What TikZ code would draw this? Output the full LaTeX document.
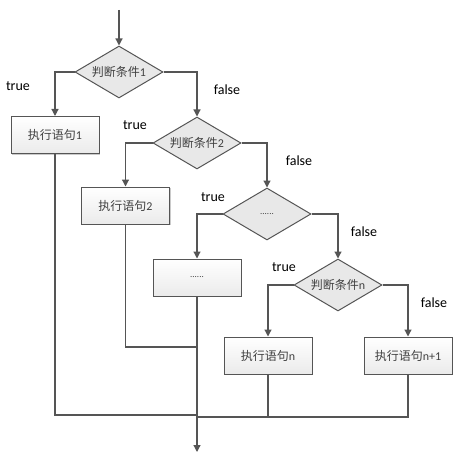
\documentclass[tikz,border=0pt]{standalone}
\usepackage{fontspec}
\setmainfont{Carlito}
\newfontfamily\cjk{Noto Sans CJK SC}
\usetikzlibrary{shapes.geometric,arrows.meta,shadows}
\definecolor{linec}{HTML}{555555}
\definecolor{txtc}{HTML}{404040}
\definecolor{dfill}{HTML}{E8E8E8}
\begin{document}
\begin{tikzpicture}[x=1pt,y=-1pt,
  every node/.style={font=\fontsize{12}{14}\selectfont},
  boxnode/.style={rectangle, draw=linec, line width=1pt, top color=white, bottom color=black!8,
    minimum width=88pt, minimum height=37pt, inner sep=0pt, text=txtc,
    drop shadow={shadow xshift=1.2pt, shadow yshift=-1.2pt, fill=black!35, opacity=0.6}},
  decnode/.style={diamond, draw=linec, line width=1pt, fill=dfill, aspect=1.7,
    minimum width=88pt, minimum height=52pt, inner sep=0pt, text=txtc},
  conn/.style={draw=linec, line width=1.2pt},
  arr/.style={conn, -{Triangle[width=7pt,length=7pt]}},
  lbl/.style={font=\fontsize{14}{16}\selectfont, text=black}]
\useasboundingbox (0,0) rectangle (458,465);
\coordinate (s) at (119,10);
\node[decnode] (d1) at (119,72) {{\cjk 判断条件}1};
\node[boxnode] (b1) at (55,135) {{\cjk 执行语句}1};
\node[decnode] (d2) at (197,143) {{\cjk 判断条件}2};
\node[boxnode] (b2) at (125.5,205.5) {{\cjk 执行语句}2};
\node[decnode] (d3) at (267,214) {\fontsize{9}{10}\selectfont ......};
\node[boxnode] (b3) at (197,277.5) {\fontsize{9}{10}\selectfont ......};
\node[decnode] (d4) at (338,285) {{\cjk 判断条件}n};
\node[boxnode] (b4) at (268,355.5) {{\cjk 执行语句}n};
\node[boxnode] (b5) at (408,355.5) {{\cjk 执行语句}n+1};
\coordinate (j1) at (197,415);
\coordinate (j2) at (197,347);
\coordinate (j4) at (197,417);
\coordinate (e) at (197,452);

\draw[arr] (s) -- (d1.north);
\draw[arr] (d1.west) -| (b1.north);
\draw[arr] (d1.east) -| (d2.north);
\draw[arr] (d2.west) -| (b2.north);
\draw[arr] (d2.east) -| (d3.north);
\draw[arr] (d3.west) -| (b3.north);
\draw[arr] (d3.east) -| (d4.north);
\draw[arr] (d4.west) -| (b4.north);
\draw[arr] (d4.east) -| (b5.north);
\draw[conn] (b1.south) |- (j1);
\draw[conn] (b2.south) |- (j2);
\draw[conn] (b4.south) |- (j4);
\draw[conn] (b5.south) |- (j4);
\draw[arr] (b3.south) -- (e);

\node[lbl] (t1) at (18,86) {true};
\node[lbl] (f1) at (227,90) {false};
\node[lbl] (t2) at (135,125) {true};
\node[lbl] (f2) at (299,161) {false};
\node[lbl] (t3) at (213,197) {true};
\node[lbl] (f3) at (364,232) {false};
\node[lbl] (t4) at (284,267) {true};
\node[lbl] (f4) at (434,303) {false};
\end{tikzpicture}
\end{document}
